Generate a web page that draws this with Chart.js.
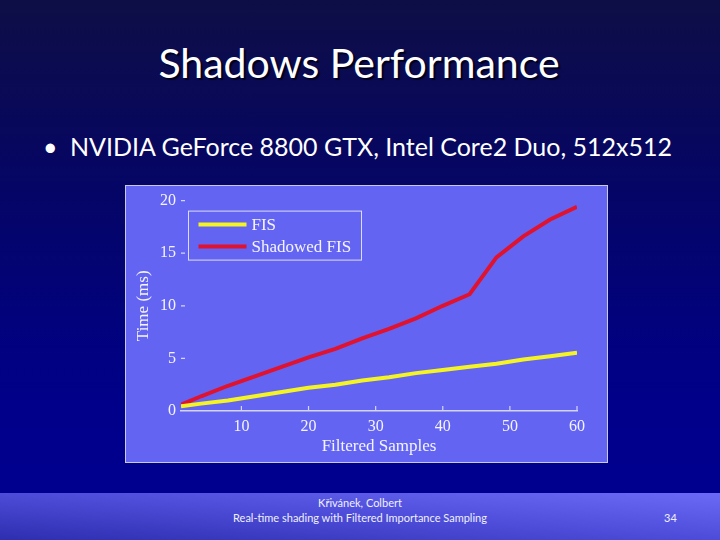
<!DOCTYPE html>
<html>
<head>
<meta charset="utf-8">
<script src="https://cdn.jsdelivr.net/npm/chart.js@4"></script>
<style>
  html, body { margin: 0; padding: 0; }
  body {
    width: 720px; height: 540px; overflow: hidden; position: relative;
    background: linear-gradient(to bottom, #0e0e46 0%, #050566 35%, #00008a 75%, #000092 100%);
    font-family: Lato, "Open Sans", sans-serif; color: #fff;
  }
  #title {
    position: absolute; left: 0; top: 38px; width: 718px; text-align: center;
    font-size: 41px; text-shadow: 2px 2px 1px #000020;
  }
  #bullet {
    position: absolute; left: 43px; top: 131px; font-size: 25px; white-space: nowrap;
  }
  #bullet span { display: inline-block; width: 27px; }
  #panel {
    position: absolute; left: 125px; top: 185px; width: 481px; height: 276px;
    border: 1px solid #c8c8ea; background: #6464f2;
  }
  #footer {
    position: absolute; left: 0; top: 493px; width: 720px; height: 47px;
    background: linear-gradient(to bottom left, #6a6af6 0%, #4c4cd8 50%, #2e2eb0 100%);
    font-size: 11px; color: #f0f0ff;
  }
  #f1 { position: absolute; left: 0; width: 720px; top: 3px; text-align: center; }
  #f2 { position: absolute; left: 0; width: 720px; top: 18px; text-align: center; }
  #f3 { position: absolute; left: 664px; top: 18px; }
</style>
</head>
<body>
<div id="title">Shadows Performance</div>
<div id="bullet"><span>•</span>NVIDIA GeForce 8800 GTX, Intel Core2 Duo, 512x512</div>
<div id="panel"><canvas id="mychart" width="481" height="276"></canvas></div>
<div id="footer">
  <div id="f1">Křivánek, Colbert</div>
  <div id="f2">Real-time shading with Filtered Importance Sampling</div>
  <div id="f3">34</div>
</div>
<script>
// data
var samples = [1, 4, 8, 12, 16, 20, 24, 28, 32, 36, 40, 44, 48, 52, 56, 60];
var fisTimes = [0.45, 0.7, 1.0, 1.4, 1.8, 2.2, 2.5, 2.9, 3.2, 3.6, 3.9, 4.2, 4.5, 4.9, 5.2, 5.55];
var shadowedTimes = [0.6, 1.4, 2.4, 3.3, 4.2, 5.1, 5.9, 6.9, 7.8, 8.8, 10.0, 11.1, 14.6, 16.6, 18.2, 19.4];
var xTicks = [10, 20, 30, 40, 50, 60];
var yTicks = [0, 5, 10, 15, 20];
var seriesNames = ["FIS", "Shadowed FIS"];

(function() {

  var axisColor = "#d4d4f4";
  var textColor = "#f4f4ff";
  var serif = "'Liberation Serif', 'DejaVu Serif', serif";

  function toPoints(xs, ys) {
    return xs.map(function(x, i) { return { x: x, y: ys[i] }; });
  }

  // little tick marks pointing into the plot, like the original
  var innerTicks = {
    id: "innerTicks",
    afterDraw: function(chart) {
      var ctx = chart.ctx, area = chart.chartArea;
      var xs = chart.scales.x, ys = chart.scales.y;
      ctx.save();
      ctx.strokeStyle = axisColor;
      ctx.lineWidth = 1.2;
      ctx.beginPath();
      xTicks.forEach(function(v) {
        var px = xs.getPixelForValue(v);
        ctx.moveTo(px, area.bottom);
        ctx.lineTo(px, area.bottom - 5);
      });
      yTicks.forEach(function(v) {
        if (v === 0) return;
        var py = ys.getPixelForValue(v);
        ctx.moveTo(area.left, py);
        ctx.lineTo(area.left + 4, py);
      });
      ctx.stroke();
      ctx.restore();
    }
  };

  // boxed legend sitting inside the top left of the plot
  var boxLegend = {
    id: "boxLegend",
    afterDraw: function(chart) {
      var ctx = chart.ctx, area = chart.chartArea;
      var left = area.left + 7.5, top = area.top + 10.5;
      var w = 173, h = 49;
      ctx.save();
      ctx.strokeStyle = "#dcdcf8";
      ctx.lineWidth = 1;
      ctx.strokeRect(left, top, w, h);
      ctx.font = "17px " + serif;
      ctx.textBaseline = "middle";
      chart.data.datasets.forEach(function(ds, i) {
        var y = top + 13.5 + i * 22;
        ctx.strokeStyle = ds.borderColor;
        ctx.lineWidth = 4;
        ctx.beginPath();
        ctx.moveTo(left + 10, y);
        ctx.lineTo(left + 58, y);
        ctx.stroke();
        ctx.fillStyle = textColor;
        ctx.fillText(ds.label, left + 63, y + 1);
      });
      ctx.restore();
    }
  };

  var context = document.getElementById("mychart").getContext("2d");
  var chart = new Chart(context, {
    type: "line",
    data: {
      datasets: [
        {
          label: seriesNames[0],
          data: toPoints(samples, fisTimes),
          borderColor: "#f4f424",
          borderWidth: 4,
          pointRadius: 0,
          tension: 0
        },
        {
          label: seriesNames[1],
          data: toPoints(samples, shadowedTimes),
          borderColor: "#e0122e",
          borderWidth: 4,
          pointRadius: 0,
          tension: 0
        }
      ]
    },
    options: {
      responsive: false,
      animation: false,
      layout: { padding: { top: 11, right: 30, left: 0, bottom: 0 } },
      plugins: { legend: { display: false }, tooltip: { enabled: false } },
      scales: {
        x: {
          type: "linear",
          min: 1,
          max: 60,
          afterBuildTicks: function(s) { s.ticks = xTicks.map(function(v) { return { value: v }; }); },
          afterFit: function(s) { s.height = 51; },
          grid: { drawOnChartArea: false, drawTicks: false },
          border: { display: true, color: axisColor, width: 1.5 },
          ticks: { color: textColor, font: { family: serif, size: 16 }, padding: 6 },
          title: {
            display: true, text: "Filtered Samples", color: textColor,
            font: { family: serif, size: 17 }, padding: { top: 0, bottom: 5 }
          }
        },
        y: {
          min: 0,
          max: 20,
          afterBuildTicks: function(s) { s.ticks = yTicks.map(function(v) { return { value: v }; }); },
          afterFit: function(s) { s.width = 55; },
          grid: { drawOnChartArea: false, drawTicks: false },
          border: { display: false },
          ticks: { color: textColor, font: { family: serif, size: 16 }, padding: 5 },
          title: {
            display: true, text: "Time (ms)", color: textColor,
            font: { family: serif, size: 17 }, padding: { top: 7, bottom: 0 }
          }
        }
      }
    },
    plugins: [innerTicks, boxLegend]
  });

})();
</script>
</body>
</html>
